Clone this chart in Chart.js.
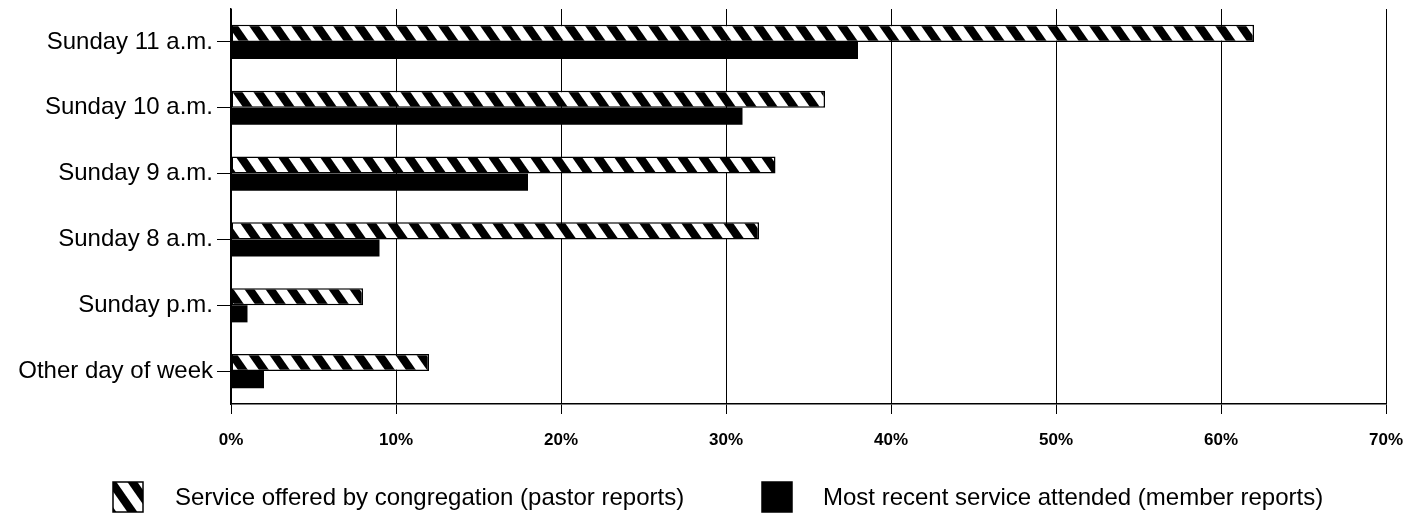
<!DOCTYPE html>
<html>
<head>
<meta charset="utf-8">
<script src="https://cdn.jsdelivr.net/npm/chart.js@4"></script>
<style>
  html, body { margin: 0; padding: 0; background: #fff; }
  #wrap { width: 1421px; height: 515px; position: relative; }
</style>
</head>
<body>
<div id="wrap"><canvas id="c" width="1421" height="515"></canvas></div>
<script>
// Service times: offered by congregation vs. most recently attended
const categories = ['Sunday 11 a.m.', 'Sunday 10 a.m.', 'Sunday 9 a.m.', 'Sunday 8 a.m.', 'Sunday p.m.', 'Other day of week'];
const offeredByCongregation = [62, 36, 33, 32, 8, 12];
const mostRecentAttended = [38, 31, 18, 9, 1, 2];
const seriesLabels = ['Service offered by congregation (pastor reports)', 'Most recent service attended (member reports)'];
const xTickValues = [0, 10, 20, 30, 40, 50, 60, 70];

const FONT = "'Liberation Sans', Arial, Helvetica, sans-serif";

// Diagonal "\" stripe fill
function makeHatch() {
  const w = 21, h = 30, band = 10;
  const t = document.createElement('canvas');
  t.width = w; t.height = h;
  const g = t.getContext('2d');
  g.fillStyle = '#fff';
  g.fillRect(0, 0, w, h);
  g.fillStyle = '#000';
  for (let k = -1; k <= 1; k++) {
    const o = k * w;
    g.beginPath();
    g.moveTo(o, 0);
    g.lineTo(o + band, 0);
    g.lineTo(o + band + w, h);
    g.lineTo(o + w, h);
    g.closePath();
    g.fill();
  }
  return document.getElementById('c').getContext('2d').createPattern(t, 'repeat');
}
const hatch = makeHatch();

// Legend row drawn under the axis
const legendRow = {
  id: 'legendRow',
  afterDraw(chart) {
    const ctx = chart.ctx;
    const items = [
      { box: 113, text: 175, ds: 0 },
      { box: 762, text: 823, ds: 1 }
    ];
    const cy = 497, size = 30;
    ctx.save();
    items.forEach(it => {
      const ds = chart.data.datasets[it.ds];
      ctx.fillStyle = ds.backgroundColor;
      ctx.fillRect(it.box, cy - size / 2, size, size);
      ctx.strokeStyle = '#000';
      ctx.lineWidth = 1.5;
      ctx.strokeRect(it.box, cy - size / 2, size, size);
      ctx.fillStyle = '#000';
      ctx.font = '24px ' + FONT;
      ctx.textBaseline = 'middle';
      ctx.textAlign = 'left';
      ctx.fillText(ds.label, it.text, cy + 1);
    });
    ctx.restore();
  }
};

new Chart(document.getElementById('c'), {
  type: 'bar',
  data: {
    labels: categories,
    datasets: [
      {
        label: seriesLabels[0],
        data: offeredByCongregation,
        backgroundColor: hatch,
        borderColor: '#000',
        borderWidth: 1.5,
        borderSkipped: false
      },
      {
        label: seriesLabels[1],
        data: mostRecentAttended,
        backgroundColor: '#000',
        borderWidth: 0
      }
    ]
  },
  options: {
    indexAxis: 'y',
    responsive: false,
    animation: false,
    devicePixelRatio: 1,
    categoryPercentage: 0.52,
    barPercentage: 1.0,
    layout: { padding: { top: 9, right: 35, left: 0, bottom: 61 } },
    plugins: {
      legend: { display: false },
      tooltip: { enabled: false }
    },
    scales: {
      x: {
        type: 'linear',
        min: 0,
        max: 70,
        afterBuildTicks(scale) {
          scale.ticks = xTickValues.map(v => ({ value: v }));
        },
        afterFit(scale) {
          scale.height = 50;
          scale.paddingLeft = 0;
          scale.paddingRight = 0;
        },
        grid: {
          display: true,
          color: '#000',
          lineWidth: 1,
          drawTicks: true,
          tickLength: 10,
          tickColor: '#000'
        },
        border: { display: true, color: '#000', width: 1.5 },
        ticks: {
          color: '#000',
          padding: 16,
          font: { family: FONT, size: 17, weight: 'bold' },
          callback: v => v + '%'
        }
      },
      y: {
        afterFit(scale) {
          scale.width = 231;
          scale.paddingTop = 0;
          scale.paddingBottom = 0;
        },
        grid: {
          offset: false,
          drawOnChartArea: false,
          drawTicks: true,
          tickLength: 14,
          color: '#000',
          tickColor: '#000'
        },
        border: { display: true, color: '#000', width: 1.5 },
        ticks: {
          color: '#000',
          padding: 4,
          font: { family: FONT, size: 24 }
        }
      }
    }
  },
  plugins: [legendRow]
});
</script>
</body>
</html>
